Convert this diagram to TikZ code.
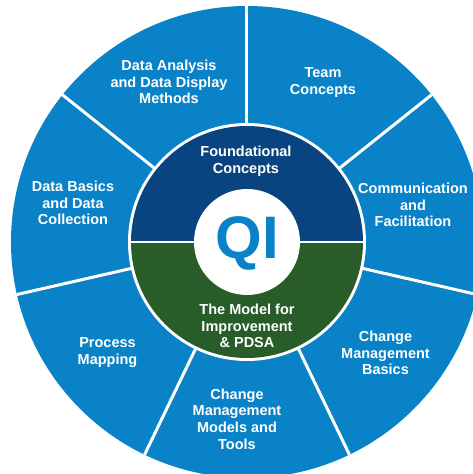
\documentclass[tikz,border=0pt]{standalone}
\usepackage{fontspec}
\setmainfont{Liberation Sans}
\usetikzlibrary{positioning}
\definecolor{qiblue}{RGB}{10,130,200}
\definecolor{qinavy}{RGB}{10,68,128}
\definecolor{qigreen}{RGB}{40,92,40}
\tikzset{topic/.style={text=white,font=\bfseries\fontsize{14.5}{16.7}\selectfont,align=center,inner sep=0pt},
  spoke/.style={white,line width=3pt}}

\begin{document}
\begin{tikzpicture}[x=1pt,y=1pt]
    \useasboundingbox (-247,-232) rectangle (226,242);
    \fill[qiblue] (0,0) circle (236);
    \coordinate (hub) at (0,0);
    \foreach \k in {0,...,6}
        \draw[spoke] (hub) -- ({90-\k*360/7}:236);
    \fill[white] (hub) circle (119);
    \fill[qinavy] (116,0) arc (0:180:116) -- cycle;
    \fill[qigreen] (-116,0) arc (180:360:116) -- cycle;
    \draw[white,line width=2pt] (-117,0) -- (117,0);
    \fill[white] (hub) circle (53);
    \node[text=qiblue,font=\bfseries\fontsize{60}{60}\selectfont,inner sep=0pt] (qi) at (0,-1) {QI};
    \node[topic] (found) at (-1,80.5) {Foundational\\Concepts};
    \node[topic] (pdsa) at (0,-84) {The Model for\\Improvement\\\& PDSA};
    \node[topic] (analysis) at (-78,160) {Data Analysis\\and Data Display\\Methods};
    \node[topic] (team) at (76,159.5) {Team\\Concepts};
    \node[topic] (comm) at (166,37) {Communication\\and\\Facilitation};
    \node[topic] (basics) at (138.5,-111) {Change\\Management\\Basics};
    \node[topic] (models) at (-10,-177) {Change\\Management\\Models and\\Tools};
    \node[topic] (mapping) at (-139.5,-110.5) {Process\\Mapping};
    \node[topic] (collection) at (-174,39) {Data Basics\\and Data\\Collection};
\end{tikzpicture}
\end{document}
